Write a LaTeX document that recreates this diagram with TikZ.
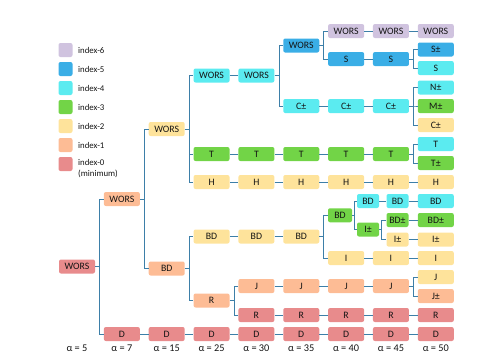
\documentclass[tikz,border=0pt]{standalone}
\usepackage{fontspec}
\setmainfont{Carlito}
\definecolor{cL}{HTML}{D0C3DF}
\definecolor{cB}{HTML}{3AAEE6}
\definecolor{cC}{HTML}{5BEBF0}
\definecolor{cG}{HTML}{72D447}
\definecolor{cY}{HTML}{FEE39B}
\definecolor{cP}{HTML}{FDBC95}
\definecolor{cR}{HTML}{E88B8C}
\definecolor{lineC}{HTML}{3D7FA8}
\definecolor{txt}{HTML}{141414}
\tikzset{
  box/.style={rounded corners=2pt, minimum width=36pt, minimum height=14pt, inner sep=0pt, text=txt, font=\fontsize{9.8}{11}\selectfont},
  sbox/.style={box, minimum width=22pt},
  conn/.style={draw=lineC, line width=0.9pt},
  legsq/.style={rounded corners=2pt, minimum width=14pt, minimum height=14pt, inner sep=0pt},
  legtx/.style={anchor=west, inner sep=0pt, text=txt, align=left, font=\fontsize{8.8}{10.5}\selectfont},
  alab/.style={inner sep=0pt, text=txt, font=\fontsize{10.3}{12}\selectfont}
}
\newcommand\bx[5]{\node[box,fill=#4] (#1) at (#2,#3) {#5};}
\newcommand\sbx[5]{\node[sbox,fill=#4] (#1) at (#2,#3) {#5};}
\newcommand\lk[2]{\draw[conn] (#1) -- (#2);}
\newcommand\br[3]{\draw[conn] (#1.east) -- ++(#3,0) |- (#2.west);}
\begin{document}
\begin{tikzpicture}[x=1pt,y=-1pt]
\useasboundingbox (0,0) rectangle (481,362);
% legend
\node[legsq,fill=cL] (l6) at (65.5,50) {};
\node[legsq,fill=cB] (l5) at (65.5,69) {};
\node[legsq,fill=cC] (l4) at (65.5,88) {};
\node[legsq,fill=cG] (l3) at (65.5,107) {};
\node[legsq,fill=cY] (l2) at (65.5,126) {};
\node[legsq,fill=cP] (l1) at (65.5,145) {};
\node[legsq,fill=cR] (l0) at (65.5,164) {};
\node[legtx] (t6) at (78,50) {index-6};
\node[legtx] (t5) at (78,69) {index-5};
\node[legtx] (t4) at (78,88) {index-4};
\node[legtx] (t3) at (78,107) {index-3};
\node[legtx] (t2) at (78,126) {index-2};
\node[legtx] (t1) at (78,145) {index-1};
\node[legtx] (t0) at (78,168.5) {index-0\\(minimum)};
% column 0
\bx{n0}{77}{266.5}{cR}{WORS}
% column 1
\bx{a1}{121.85}{199}{cP}{WORS}
\bx{d1}{121.85}{334}{cR}{D}
% column 2
\bx{a2}{166.7}{129}{cY}{WORS}
\bx{b2}{166.7}{268.5}{cP}{BD}
\bx{d2}{166.7}{334}{cR}{D}
% column 3
\bx{a3}{211.55}{75.5}{cC}{WORS}
\bx{t3}{211.55}{154}{cG}{T}
\bx{h3}{211.55}{182}{cY}{H}
\bx{b3}{211.55}{236.5}{cY}{BD}
\bx{r3}{211.55}{300.5}{cP}{R}
\bx{d3}{211.55}{334}{cR}{D}
% column 4
\bx{a4}{256.4}{75.5}{cC}{WORS}
\bx{t4}{256.4}{154}{cG}{T}
\bx{h4}{256.4}{182}{cY}{H}
\bx{b4}{256.4}{236.5}{cY}{BD}
\bx{j4}{256.4}{286}{cP}{J}
\bx{r4}{256.4}{315}{cR}{R}
\bx{d4}{256.4}{334}{cR}{D}
% column 5
\bx{a5}{301.25}{45.5}{cB}{WORS}
\bx{c5}{301.25}{106}{cC}{C±}
\bx{t5}{301.25}{154}{cG}{T}
\bx{h5}{301.25}{182}{cY}{H}
\bx{b5}{301.25}{236.5}{cY}{BD}
\bx{j5}{301.25}{286}{cP}{J}
\bx{r5}{301.25}{315}{cR}{R}
\bx{d5}{301.25}{334}{cR}{D}
% column 6
\bx{a6}{346.1}{31}{cL}{WORS}
\bx{s6}{346.1}{59}{cB}{S}
\bx{c6}{346.1}{106}{cC}{C±}
\bx{t6n}{346.1}{154}{cG}{T}
\bx{h6}{346.1}{182}{cY}{H}
\node[box,minimum width=24pt,fill=cG] (b6) at (340,215.25) {BD};
\bx{i6}{346.1}{258}{cY}{I}
\bx{j6}{346.1}{286}{cP}{J}
\bx{r6}{346.1}{315}{cR}{R}
\bx{d6}{346.1}{334}{cR}{D}
% column 7
\bx{a7}{390.95}{31}{cL}{WORS}
\bx{s7}{390.95}{59}{cB}{S}
\bx{c7}{390.95}{106}{cC}{C±}
\bx{t7}{390.95}{154}{cG}{T}
\bx{h7}{390.95}{182}{cY}{H}
\sbx{bx}{368}{201}{cC}{BD}
\sbx{ix}{368}{229.5}{cG}{I±}
\sbx{by}{397.5}{201}{cC}{BD}
\sbx{bpm}{397.5}{220}{cG}{BD±}
\sbx{ipm}{397.5}{239.5}{cY}{I±}
\bx{i7}{390.95}{258}{cY}{I}
\bx{j7}{390.95}{286}{cP}{J}
\bx{r7}{390.95}{315}{cR}{R}
\bx{d7}{390.95}{334}{cR}{D}
% column 8
\bx{a8}{435.8}{31}{cL}{WORS}
\bx{sp8}{435.8}{49.5}{cB}{S±}
\bx{s8}{435.8}{68}{cC}{S}
\bx{n8}{435.8}{87.5}{cC}{N±}
\bx{m8}{435.8}{106}{cG}{M±}
\bx{cc8}{435.8}{125}{cY}{C±}
\bx{tt8}{435.8}{144}{cC}{T}
\bx{tp8}{435.8}{163}{cG}{T±}
\bx{h8}{435.8}{182}{cY}{H}
\bx{bd8}{435.8}{201}{cC}{BD}
\bx{bp8}{435.8}{220}{cG}{BD±}
\bx{ip8}{435.8}{239.5}{cY}{I±}
\bx{i8}{435.8}{258}{cY}{I}
\bx{jj8}{435.8}{277}{cY}{J}
\bx{jp8}{435.8}{296}{cP}{J±}
\bx{r8}{435.8}{315}{cR}{R}
\bx{d8}{435.8}{334}{cR}{D}
% alpha labels
\node[alab] (al0) at (77,348) {α = 5};
\node[alab] (al1) at (121.85,348) {α = 7};
\node[alab] (al2) at (166.7,348) {α = 15};
\node[alab] (al3) at (211.55,348) {α = 25};
\node[alab] (al4) at (256.4,348) {α = 30};
\node[alab] (al5) at (301.25,348) {α = 35};
\node[alab] (al6) at (346.1,348) {α = 40};
\node[alab] (al7) at (390.95,348) {α = 45};
\node[alab] (al8) at (435.8,348) {α = 50};
% connectors: branches
\br{n0}{a1}{4.4}\br{n0}{d1}{4.4}
\br{a1}{a2}{4.4}\br{a1}{b2}{4.4}
\br{a2}{a3}{4.4}\br{a2}{t3}{4.4}\br{a2}{h3}{4.4}
\br{b2}{b3}{4.4}\br{b2}{r3}{4.4}
\br{r3}{j4}{4.4}\br{r3}{r4}{4.4}
\br{a4}{a5}{4.4}\br{a4}{c5}{4.4}
\br{a5}{a6}{4.4}\br{a5}{s6}{4.4}
\br{s7}{sp8}{4.4}\br{s7}{s8}{4.4}
\br{c7}{n8}{4.4}\br{c7}{m8}{4.4}\br{c7}{cc8}{4.4}
\br{t7}{tt8}{4.4}\br{t7}{tp8}{4.4}
\br{b5}{b6}{4.4}\br{b5}{i6}{4.4}
\br{b6}{bx}{2.5}\br{b6}{ix}{2.5}
\br{ix}{bpm}{2.5}\br{ix}{ipm}{2.5}
\br{j7}{jj8}{4.4}\br{j7}{jp8}{4.4}
% connectors: straight
\lk{d1}{d2}\lk{d2}{d3}\lk{d3}{d4}\lk{d4}{d5}\lk{d5}{d6}\lk{d6}{d7}\lk{d7}{d8}
\lk{a3}{a4}
\lk{a6}{a7}\lk{a7}{a8}
\lk{s6}{s7}
\lk{c5}{c6}\lk{c6}{c7}
\lk{t3}{t4}\lk{t4}{t5}\lk{t5}{t6n}\lk{t6n}{t7}
\lk{h3}{h4}\lk{h4}{h5}\lk{h5}{h6}\lk{h6}{h7}\lk{h7}{h8}
\lk{b3}{b4}\lk{b4}{b5}
\lk{bx}{by}\lk{by}{bd8}
\lk{bpm}{bp8}\lk{ipm}{ip8}
\lk{i6}{i7}\lk{i7}{i8}
\lk{j4}{j5}\lk{j5}{j6}\lk{j6}{j7}
\lk{r4}{r5}\lk{r5}{r6}\lk{r6}{r7}\lk{r7}{r8}
\end{tikzpicture}
\end{document}
